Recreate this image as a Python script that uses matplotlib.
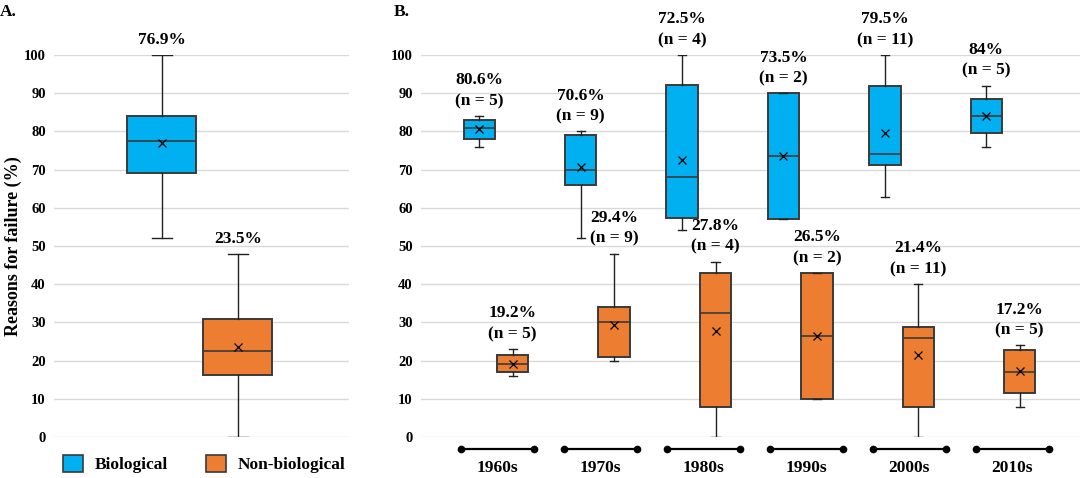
import matplotlib
matplotlib.use('Agg')
import matplotlib.pyplot as plt
from matplotlib.patches import Patch
from matplotlib.transforms import blended_transform_factory

plt.rcParams['font.family'] = ['Liberation Serif', 'DejaVu Serif']
plt.rcParams['font.weight'] = 'bold'

BLUE = '#00B0F0'
ORANGE = '#ED7D31'
EDGE = '#3A3A3A'
GRID = '#D9D9D9'

# --- Panel A: all decades pooled ---
groups_a = ['Biological', 'Non-biological']
a_low = [52.0, 0.0]
a_q1 = [69.2, 16.2]
a_med = [77.5, 22.5]
a_q3 = [84.0, 30.9]
a_high = [100.0, 48.0]
a_mean = [76.9, 23.5]
a_labels = ['76.9%', '23.5%']

# --- Panel B: by decade ---
decades = ['1960s', '1970s', '1980s', '1990s', '2000s', '2010s']
n_studies = [5, 9, 4, 2, 11, 5]

bio_low = [76.0, 52.0, 54.1, 57.0, 62.9, 76.0]
bio_q1 = [78.1, 66.1, 57.3, 57.0, 71.1, 79.5]
bio_med = [81.0, 70.0, 68.0, 73.5, 74.0, 84.0]
bio_q3 = [83.1, 79.0, 92.2, 90.0, 92.0, 88.5]
bio_high = [84.0, 80.0, 100.0, 90.0, 100.0, 92.0]
bio_mean = [80.6, 70.6, 72.5, 73.5, 79.5, 84.0]
bio_labels = ['80.6%', '70.6%', '72.5%', '73.5%', '79.5%', '84%']

non_low = [16.0, 20.0, 0.0, 10.0, 0.0, 7.8]
non_q1 = [17.0, 20.9, 7.8, 10.0, 7.8, 11.4]
non_med = [19.0, 30.1, 32.4, 26.5, 25.9, 17.0]
non_q3 = [21.4, 34.0, 42.9, 42.9, 28.9, 22.9]
non_high = [23.0, 48.0, 45.9, 42.9, 40.0, 24.0]
non_mean = [19.2, 29.4, 27.8, 26.5, 21.4, 17.2]
non_labels = ['19.2%', '29.4%', '27.8%', '26.5%', '21.4%', '17.2%']


def make_stats(low, q1, med, q3, high, mean):
    stats = []
    for i in range(len(low)):
        stats.append({'whislo': low[i], 'q1': q1[i], 'med': med[i],
                      'q3': q3[i], 'whishi': high[i], 'mean': mean[i],
                      'fliers': []})
    return stats


def draw_boxes(ax, stats, positions, color, width, capw):
    ax.bxp(stats, positions=positions, widths=width, capwidths=capw,
           patch_artist=True, showmeans=True, showfliers=False,
           boxprops=dict(facecolor=color, edgecolor=EDGE, linewidth=1.4),
           medianprops=dict(color=EDGE, linewidth=1.2),
           whiskerprops=dict(color='#222222', linewidth=1.0),
           capprops=dict(color='#222222', linewidth=1.0),
           meanprops=dict(marker='x', markeredgecolor='black',
                          markersize=5.5, markeredgewidth=0.9))


def style_axis(ax):
    ax.set_ylim(0, 100)
    ax.set_yticks(range(0, 101, 10))
    ax.yaxis.grid(True, color=GRID, linewidth=1.0)
    ax.set_axisbelow(True)
    for side in ['top', 'right', 'left', 'bottom']:
        ax.spines[side].set_visible(False)
    ax.tick_params(axis='y', length=0, labelsize=10.5, pad=6)
    ax.tick_params(axis='x', length=0, labelbottom=False)
    for lab in ax.get_yticklabels():
        lab.set_fontweight('bold')


fig = plt.figure(figsize=(10.8, 4.78), dpi=100)

# Panel A
axA = fig.add_axes([0.05, 0.0858, 0.273, 0.799])
posA = [1, 2]
stats_a = make_stats(a_low, a_q1, a_med, a_q3, a_high, a_mean)
draw_boxes(axA, stats_a[:1], posA[:1], BLUE, 0.91, 0.27)
draw_boxes(axA, stats_a[1:], posA[1:], ORANGE, 0.91, 0.27)
style_axis(axA)
axA.set_xlim(-0.42, 3.46)
axA.set_ylabel('Reasons for failure (%)', fontsize=13, fontweight='bold')
axA.yaxis.set_label_coords(-0.11, 0.5)
for i in range(2):
    axA.annotate(a_labels[i], (posA[i], a_high[i]), xytext=(0, 5),
                 textcoords='offset points', ha='center', va='bottom',
                 fontsize=12.5, fontweight='bold')

# Panel B
axB = fig.add_axes([0.3898, 0.0858, 0.6102, 0.799])
pos_bio = [i - 0.165 for i in range(len(decades))]
pos_non = [i + 0.165 for i in range(len(decades))]
draw_boxes(axB, make_stats(bio_low, bio_q1, bio_med, bio_q3, bio_high, bio_mean),
           pos_bio, BLUE, 0.31, 0.08)
draw_boxes(axB, make_stats(non_low, non_q1, non_med, non_q3, non_high, non_mean),
           pos_non, ORANGE, 0.31, 0.08)
style_axis(axB)
axB.set_xlim(-0.74, 5.76)
for i in range(len(decades)):
    axB.annotate(f'{bio_labels[i]}\n(n = {n_studies[i]})', (pos_bio[i], bio_high[i]),
                 xytext=(0, 5), textcoords='offset points', ha='center', va='bottom',
                 fontsize=12.5, fontweight='bold', linespacing=1.4)
    axB.annotate(f'{non_labels[i]}\n(n = {n_studies[i]})', (pos_non[i], non_high[i]),
                 xytext=(0, 5), textcoords='offset points', ha='center', va='bottom',
                 fontsize=12.5, fontweight='bold', linespacing=1.4)

# decade brackets under the axis
trans = blended_transform_factory(axB.transData, axB.transAxes)
for i, name in enumerate(decades):
    xc = i + 0.015 * i + 0.015
    axB.plot([xc - 0.36, xc + 0.36], [-0.031, -0.031], color='black', lw=1.6,
             marker='o', markersize=4.5, transform=trans, clip_on=False)
    axB.text(xc, -0.08, name, transform=trans, ha='center', va='center',
             fontsize=12.5, fontweight='bold')

# legend under panel A
handles = [Patch(facecolor=BLUE, edgecolor=EDGE, linewidth=1.2),
           Patch(facecolor=ORANGE, edgecolor=EDGE, linewidth=1.2)]
fig.legend(handles, groups_a, loc='center', bbox_to_anchor=(0.189, 0.029),
           ncol=2, frameon=False, handlelength=1.15, handleheight=1.15,
           columnspacing=2.2, handletextpad=0.65,
           prop={'size': 12.5, 'weight': 'bold'})

fig.text(0.0, 0.975, 'A.', fontsize=12.5, fontweight='bold', va='center', ha='left')
fig.text(0.365, 0.975, 'B.', fontsize=12.5, fontweight='bold', va='center', ha='left')

plt.savefig('out.png', dpi=100)
plt.close()
